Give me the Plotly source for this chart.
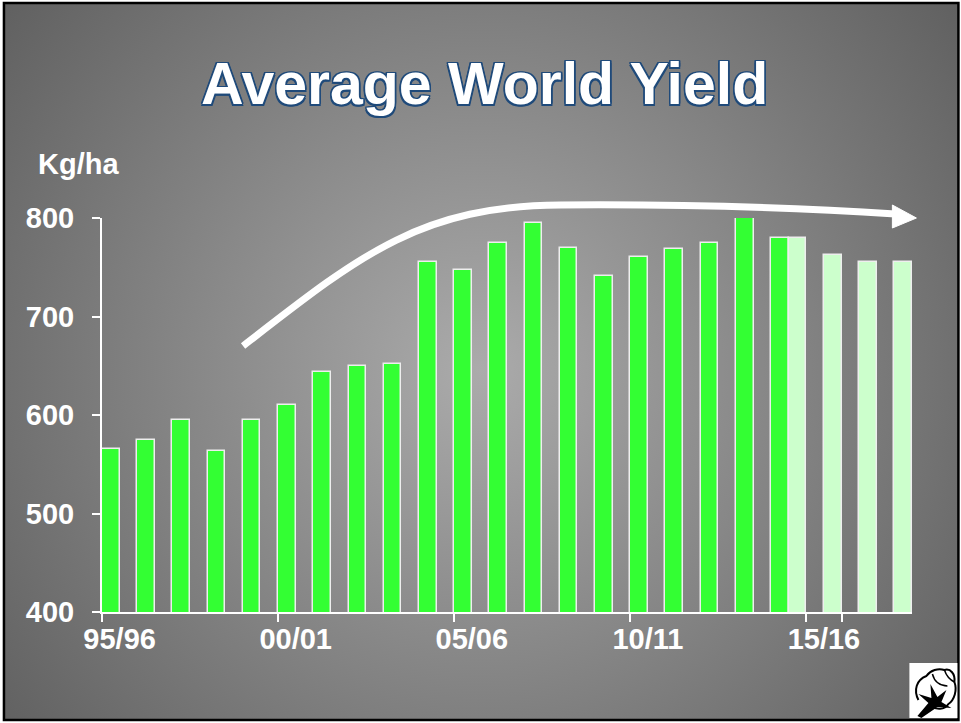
import base64
import plotly.graph_objects as go

# ---- data ----
seasons = ["95/96", "96/97", "97/98", "98/99", "99/00", "00/01", "01/02", "02/03",
           "03/04", "04/05", "05/06", "06/07", "07/08", "08/09", "09/10", "10/11",
           "11/12", "12/13", "13/14", "14/15", "15/16", "16/17", "17/18"]
actual_seasons = seasons[:20]
actual_yield = [565, 575, 595, 563, 595, 610, 644, 650, 652, 755, 747, 775,
                795, 770, 741, 760, 769, 775, 800, 780]
proj_seasons = ["14/15", "15/16", "16/17", "17/18"]
proj_yield = [780, 762, 755, 755]
tick_labels = ["95/96", "00/01", "05/06", "10/11", "15/16"]

W, H = 961, 723
L, R, T, B = 102, 911.6, 218, 612
PW, PH = R - L, B - T


def px(x):
    return (x - L) / PW


def py(y):
    return (B - y) / PH


FONT = "Arial, 'Liberation Sans', sans-serif"

# background (radial gradient, frame, cotton logo)
svg = f"""<svg xmlns='http://www.w3.org/2000/svg' width='{W}' height='{H}' viewBox='0 0 {W} {H}' preserveAspectRatio='none'>
<defs><radialGradient id='g' cx='480' cy='370' r='620' gradientUnits='userSpaceOnUse'>
<stop offset='0' stop-color='#ababab'/><stop offset='1' stop-color='#5e5e5e'/></radialGradient></defs>
<rect width='{W}' height='{H}' fill='white'/>
<rect x='4' y='3' width='954' height='717' fill='url(#g)' stroke='black' stroke-width='2.5'/>
<rect x='909' y='663' width='48' height='55' fill='white'/>
<path d='M918 700 C913 690 916 680 926 676 C930 670 938 668 944 670 C950 668 955 674 954 682 C957 690 954 700 948 704 C944 710 936 710 930 706' fill='none' stroke='black' stroke-width='2'/>
<path d='M932 674 C934 682 940 686 947 686 M944 670 C946 676 950 680 954 682' fill='none' stroke='black' stroke-width='1.5'/>
<path d='M917 716 L928 703 L918 694 L931 698 L930 684 L937 697 L946 690 L941 702 L951 708 L937 707 L921 718 Z' fill='black'/>
</svg>"""
svg_uri = "data:image/svg+xml;base64," + base64.b64encode(svg.encode()).decode()

fig = go.Figure()
fig.add_trace(go.Bar(x=actual_seasons, y=actual_yield, name="actual",
                     marker=dict(color="#33ff33", line=dict(color="#eeeeee", width=1.5))))
fig.add_trace(go.Bar(x=proj_seasons, y=proj_yield, name="projection",
                     marker=dict(color="#ccffcc", line=dict(color="#eeeeee", width=1.5))))

# arrow (decoration)
arrow = (f"M {px(243)},{py(346)} C {px(360)},{py(255)} {px(420)},{py(206)} {px(560)},{py(205)} "
         f"C {px(700)},{py(204)} {px(820)},{py(209)} {px(895)},{py(214)}")
head = f"M {px(892)},{py(205)} L {px(916)},{py(218)} L {px(892)},{py(228)} Z"

fig.update_layout(
    width=W, height=H,
    margin=dict(l=L, r=W - R, t=T, b=H - B, pad=0),
    paper_bgcolor="#808080",
    plot_bgcolor="rgba(0,0,0,0)",
    barmode="group", bargap=0, bargroupgap=0,
    showlegend=False,
    font=dict(family=FONT, color="white"),
    images=[dict(source=svg_uri, xref="paper", yref="paper",
                 x=px(0), y=py(0), sizex=W / PW, sizey=H / PH,
                 xanchor="left", yanchor="top", sizing="stretch", layer="below")],
    shapes=[
        dict(type="path", path=arrow, xref="paper", yref="paper",
             line=dict(color="white", width=7)),
        dict(type="path", path=head, xref="paper", yref="paper",
             line=dict(color="white", width=1), fillcolor="white"),
    ],
    annotations=[
        dict(text="<b>Average World Yield</b>", xref="paper", yref="paper",
             x=px(484), y=py(84), xanchor="center", yanchor="middle", showarrow=False,
             font=dict(size=59, color="white", family=FONT,
                       shadow="1.5px 1.5px 0 #1f4a7a, -1.5px -1.5px 0 #1f4a7a, 1.5px -1.5px 0 #1f4a7a, -1.5px 1.5px 0 #1f4a7a, 0 1.5px 0 #1f4a7a, 0 -1.5px 0 #1f4a7a, 1.5px 0 0 #1f4a7a, -1.5px 0 0 #1f4a7a")),
        dict(text="<b>Kg/ha</b>", xref="paper", yref="paper",
             x=px(36), y=py(164), xanchor="left", yanchor="middle", showarrow=False,
             font=dict(size=29, color="white", family=FONT)),
    ],
    xaxis=dict(
        type="category", categoryorder="array", categoryarray=seasons,
        range=[-0.5, len(seasons) - 0.5], automargin=False, tickangle=0,
        tickmode="array", tickvals=tick_labels, ticktext=[f"<b>{t}</b>" for t in tick_labels],
        tickson="boundaries", ticks="outside", ticklen=8, tickwidth=2, tickcolor="white",
        showline=True, linecolor="white", linewidth=2, showgrid=False, zeroline=False,
        tickfont=dict(size=29, color="white", family=FONT),
    ),
    yaxis=dict(
        range=[400, 800], tickvals=[400, 500, 600, 700, 800], automargin=False,
        ticktext=["<b>400</b>", "<b>500</b>", "<b>600</b>", "<b>700</b>", "<b>800</b>"],
        ticks="outside", ticklen=8, tickwidth=2, tickcolor="white",
        showline=True, linecolor="white", linewidth=2, showgrid=False, zeroline=False,
        ticklabelstandoff=12,
        tickfont=dict(size=29, color="white", family=FONT),
    ),
)

fig.write_html("out.html", config={"displayModeBar": False},
               post_script="document.body.style.margin='0';document.body.style.padding='0';document.body.style.overflow='hidden';")
